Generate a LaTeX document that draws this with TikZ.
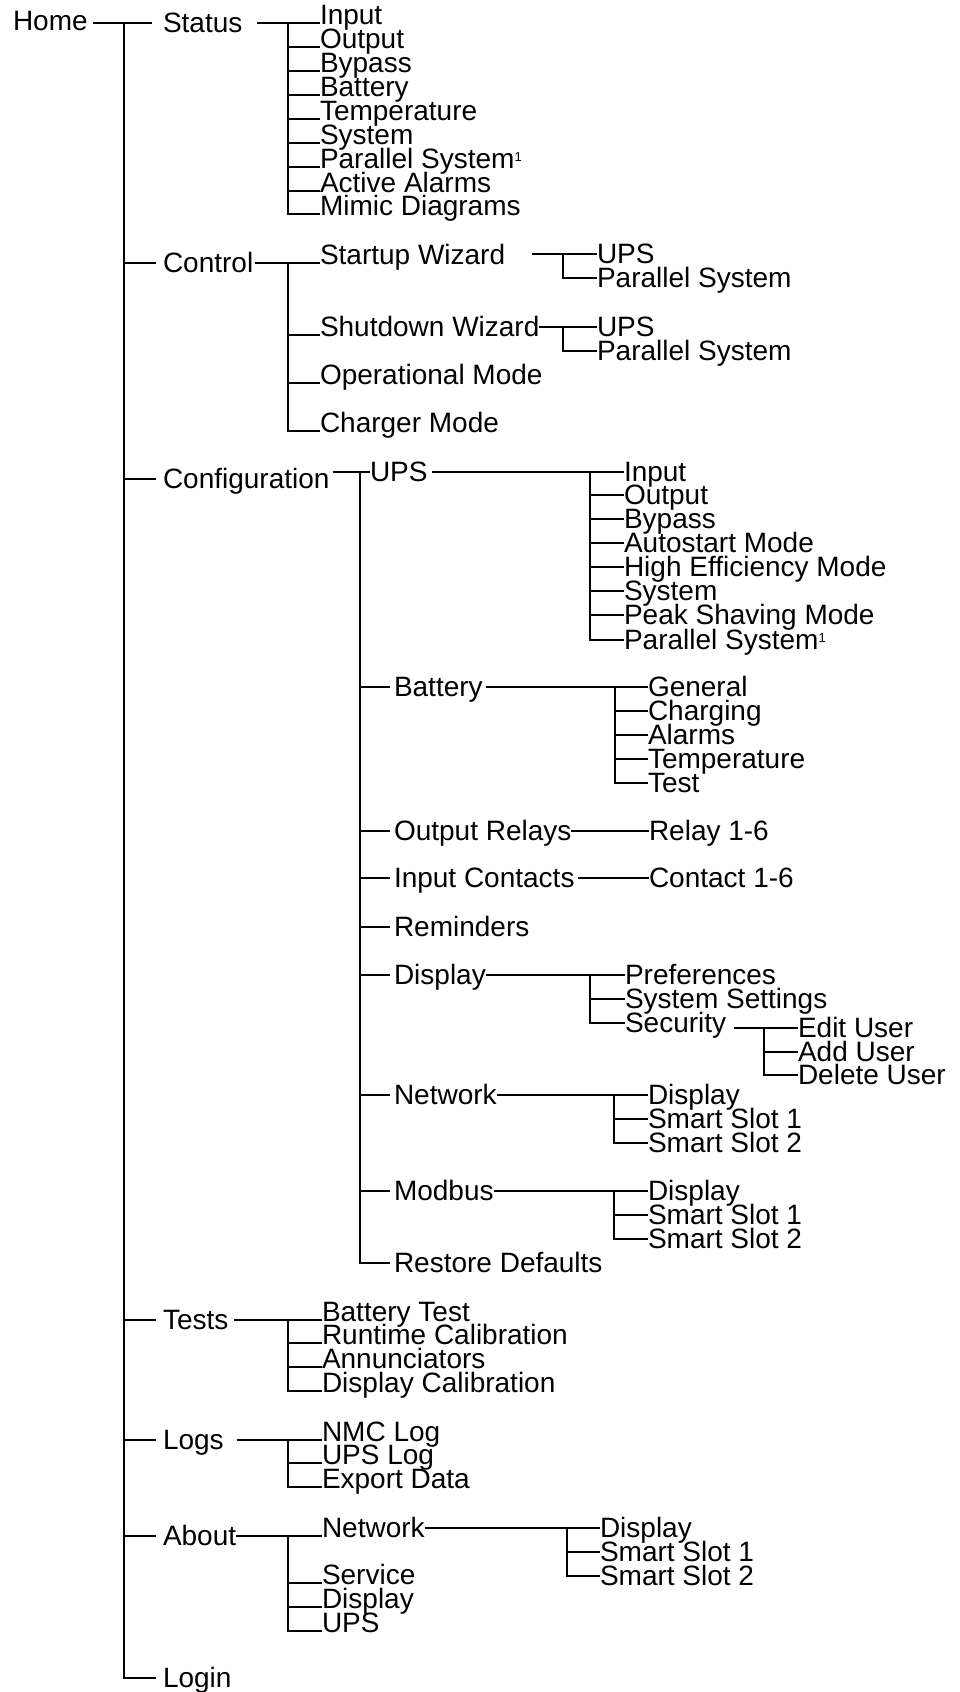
\documentclass[tikz,border=0pt]{standalone}
\usepackage{fontspec}
\setmainfont{Liberation Sans}
\newcommand\supone{{\fontsize{13}{13}\selectfont\raisebox{7pt}{1}}}
\begin{document}
\begin{tikzpicture}[x=1pt,y=-1pt,
  every node/.style={inner sep=0pt, outer sep=0pt, font=\fontsize{28}{30}\selectfont},
  lbl/.style={anchor=west, text height=19pt, text depth=0pt},
  lst/.style={anchor=west, text height=3pt, text depth=0pt},
  every path/.style={line width=1.3pt, line cap=butt}]
\useasboundingbox (0,0) rectangle (960,1692);

% ---------- level 0 / 1 ----------
\node[lbl] (home) at (13,21) {Home};
\node[lbl] (status) at (163,23) {Status};
\node[lbl] (control) at (163,263) {Control};
\node[lbl] (config) at (163,479) {Configuration};
\node[lbl] (tests) at (163,1320) {Tests};
\node[lbl] (logs) at (163,1440) {Logs};
\node[lbl] (about) at (163,1536) {About};
\node[lbl] (login) at (163,1678) {Login};

\coordinate (b0) at (124,23);
\draw ([xshift=5pt]home.east |- status.west) -- ([xshift=-11pt]status.west);
\foreach \n in {control,config,tests,logs,about,login}
  \draw (b0) |- ([xshift=-7pt]\n.west);

% ---------- Status ----------
\node[lst] (sIn)  at (320,23)  {Input};
\node[lst] (sOut) at (320,47)  {Output};
\node[lst] (sByp) at (320,71)  {Bypass};
\node[lst] (sBat) at (320,95)  {Battery};
\node[lst] (sTmp) at (320,119) {Temperature};
\node[lst] (sSys) at (320,143) {System};
\node[lst] (sPar) at (320,167) {Parallel System\supone};
\node[lst] (sAlm) at (320,191) {Active Alarms};
\node[lst] (sMim) at (320,214) {Mimic Diagrams};
\coordinate (bS) at (288,23);
\draw ([xshift=15pt]status.east) -- (sIn.west);
\foreach \n in {sOut,sByp,sBat,sTmp,sSys,sPar,sAlm,sMim}
  \draw (bS) |- (\n.west);

% ---------- Control ----------
\node[lst] (cSU) at (320,263) {Startup Wizard};
\node[lst] (cSD) at (320,335) {Shutdown Wizard};
\node[lst] (cOp) at (320,383) {Operational Mode};
\node[lst] (cCh) at (320,431) {Charger Mode};
\coordinate (bC) at (288,263);
\draw ([xshift=2pt]control.east) -- (cSU.west);
\foreach \n in {cSD,cOp,cCh}
  \draw (bC) |- (\n.west);

\node[lbl] (suU) at (597,254) {UPS};
\node[lbl] (suP) at (597,278) {Parallel System};
\coordinate (suL) at (532,254);
\coordinate (bSU) at (563,254);
\draw (suL) -- (suU.west);
\draw (bSU) |- (suP.west);

\node[lbl] (sdU) at (597,327) {UPS};
\node[lbl] (sdP) at (597,351) {Parallel System};
\coordinate (bSD) at (563,327);
\draw (cSD.east |- sdU.west) -- (sdU.west);
\draw (bSD) |- (sdP.west);

% ---------- Configuration ----------
\node[lbl] (kUPS) at (370,472) {UPS};
\node[lbl] (kBat) at (394,687) {Battery};
\node[lbl] (kOR)  at (394,831) {Output Relays};
\node[lbl] (kIC)  at (394,878) {Input Contacts};
\node[lbl] (kRem) at (394,927) {Reminders};
\node[lbl] (kDis) at (394,975) {Display};
\node[lbl] (kNet) at (394,1095) {Network};
\node[lbl] (kMod) at (394,1191) {Modbus};
\node[lbl] (kRes) at (394,1263) {Restore Defaults};
\coordinate (bK) at (360,472);
\draw ([xshift=3pt]config.east |- kUPS.west) -- (kUPS.west);
\foreach \n in {kBat,kOR,kIC,kRem,kDis,kNet,kMod,kRes}
  \draw (bK) |- ([xshift=-4pt]\n.west);

% UPS
\node[lbl] (uIn)   at (624,472) {Input};
\node[lbl] (uOut)  at (624,495) {Output};
\node[lbl] (uByp)  at (624,519) {Bypass};
\node[lbl] (uAuto) at (624,543) {Autostart Mode};
\node[lbl] (uHE)   at (624,567) {High Efficiency Mode};
\node[lbl] (uSys)  at (624,591) {System};
\node[lbl] (uPk)   at (624,615) {Peak Shaving Mode};
\node[lbl] (uPar)  at (624,640) {Parallel System\supone};
\coordinate (bU) at (590,472);
\draw ([xshift=4pt]kUPS.east) -- (uIn.west);
\foreach \n in {uOut,uByp,uAuto,uHE,uSys,uPk,uPar}
  \draw (bU) |- (\n.west);

% Battery
\node[lbl] (bGen) at (648,687) {General};
\node[lbl] (bChg) at (648,711) {Charging};
\node[lbl] (bAlm) at (648,735) {Alarms};
\node[lbl] (bTmp) at (648,759) {Temperature};
\node[lbl] (bTst) at (648,783) {Test};
\coordinate (bB) at (615,687);
\draw ([xshift=3pt]kBat.east) -- (bGen.west);
\foreach \n in {bChg,bAlm,bTmp,bTst}
  \draw (bB) |- (\n.west);

% Output relays / input contacts
\node[lbl] (rel) at (649,831) {Relay 1-6};
\node[lbl] (con) at (649,878) {Contact 1-6};
\draw (kOR.east) -- (rel.west);
\draw ([xshift=3pt]kIC.east) -- (con.west);

% Display
\node[lbl] (dPref) at (625,975)  {Preferences};
\node[lbl] (dSys)  at (625,999)  {System Settings};
\node[lbl] (dSec)  at (625,1023) {Security};
\coordinate (bD) at (590,975);
\draw (kDis.east) -- (dPref.west);
\foreach \n in {dSys,dSec}
  \draw (bD) |- (\n.west);

\node[lbl] (eEd)  at (798,1028) {Edit User};
\node[lbl] (eAdd) at (798,1052) {Add User};
\node[lbl] (eDel) at (798,1075) {Delete User};
\coordinate (bE) at (764,1028);
\draw ([xshift=8pt]dSec.east |- eEd.west) -- (eEd.west);
\foreach \n in {eAdd,eDel}
  \draw (bE) |- (\n.west);

% Network
\node[lbl] (nDis) at (648,1095) {Display};
\node[lbl] (nS1)  at (648,1119) {Smart Slot 1};
\node[lbl] (nS2)  at (648,1143) {Smart Slot 2};
\coordinate (bN) at (614,1095);
\draw (kNet.east) -- (nDis.west);
\foreach \n in {nS1,nS2}
  \draw (bN) |- (\n.west);

% Modbus
\node[lbl] (mDis) at (648,1191) {Display};
\node[lbl] (mS1)  at (648,1215) {Smart Slot 1};
\node[lbl] (mS2)  at (648,1239) {Smart Slot 2};
\coordinate (bM) at (614,1191);
\draw (kMod.east) -- (mDis.west);
\foreach \n in {mS1,mS2}
  \draw (bM) |- (\n.west);

% ---------- Tests ----------
\node[lst] (tBT) at (322,1320) {Battery Test};
\node[lst] (tRC) at (322,1343) {Runtime Calibration};
\node[lst] (tAn) at (322,1367) {Annunciators};
\node[lst] (tDC) at (322,1391) {Display Calibration};
\coordinate (bT) at (288,1320);
\draw ([xshift=6pt]tests.east) -- (tBT.west);
\foreach \n in {tRC,tAn,tDC}
  \draw (bT) |- (\n.west);

% ---------- Logs ----------
\node[lst] (lNMC) at (322,1440) {NMC Log};
\node[lst] (lUPS) at (322,1463) {UPS Log};
\node[lst] (lExp) at (322,1487) {Export Data};
\coordinate (bL) at (288,1440);
\draw ([xshift=13pt]logs.east) -- (lNMC.west);
\foreach \n in {lUPS,lExp}
  \draw (bL) |- (\n.west);

% ---------- About ----------
\node[lst] (aNet) at (322,1536) {Network};
\node[lst] (aSvc) at (322,1583) {Service};
\node[lst] (aDis) at (322,1607) {Display};
\node[lst] (aUPS) at (322,1631) {UPS};
\coordinate (bA) at (288,1536);
\draw (about.east) -- (aNet.west);
\foreach \n in {aSvc,aDis,aUPS}
  \draw (bA) |- (\n.west);

\node[lbl] (anDis) at (600,1528) {Display};
\node[lbl] (anS1)  at (600,1552) {Smart Slot 1};
\node[lbl] (anS2)  at (600,1576) {Smart Slot 2};
\coordinate (bAN) at (567,1528);
\draw (aNet.east |- anDis.west) -- (anDis.west);
\foreach \n in {anS1,anS2}
  \draw (bAN) |- (\n.west);
\end{tikzpicture}
\end{document}
